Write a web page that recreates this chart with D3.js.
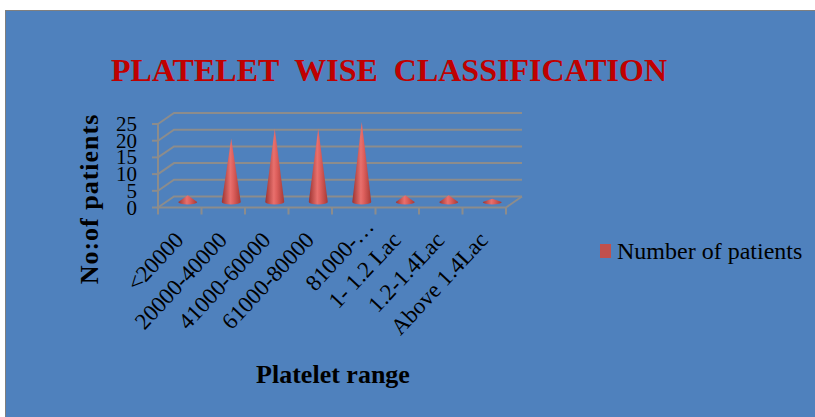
<!DOCTYPE html>
<html>
<head>
<meta charset="utf-8">
<script src="https://cdn.jsdelivr.net/npm/d3@7"></script>
<style>
  body { margin: 0; background: #fff; }
  text { font-family: "Liberation Serif", "Times New Roman", serif; }
</style>
</head>
<body>
<div id="chart"></div>
<script>
// chart data
var categories = ["<20000", "20000-40000", "41000-60000", "61000-80000", "81000-\u2026", "1- 1.2 Lac", "1.2-1.4Lac", "Above 1.4Lac"];
var patients = [2, 19, 22, 22, 24, 2, 2, 1];
var yTicks = [0, 5, 10, 15, 20, 25];
var seriesName = "Number of patients";

var w = 815;
var h = 417;
var depthX = 16;   // 3d depth offset
var depthY = -11;

var svg = d3.select("#chart")
    .append("svg")
    .attr("width", w)
    .attr("height", h);

// gradient for the cones
var grad = svg.append("defs").append("linearGradient")
    .attr("id", "cone")
    .attr("x1", "0%").attr("x2", "100%")
    .attr("y1", "0%").attr("y2", "0%");
grad.append("stop").attr("offset", "0%").attr("stop-color", "#9c3331");
grad.append("stop").attr("offset", "45%").attr("stop-color", "#e8706d");
grad.append("stop").attr("offset", "60%").attr("stop-color", "#de605d");
grad.append("stop").attr("offset", "100%").attr("stop-color", "#a63936");

// blue panel
svg.append("rect")
    .attr("x", 5.5)
    .attr("y", 10.5)
    .attr("width", w + 10)
    .attr("height", h + 10)
    .attr("fill", "#4f81bd")
    .attr("stroke", "#7f7f7f");

// title
svg.append("text")
    .attr("x", 389)
    .attr("y", 81)
    .attr("text-anchor", "middle")
    .attr("fill", "#c00000")
    .style("font-size", "32px")
    .style("font-weight", "bold")
    .style("word-spacing", "8px")
    .text("PLATELET WISE CLASSIFICATION");

//Create scale functions
var xScale = d3.scaleBand()
    .domain(categories)
    .range([158, 506]);

var yScale = d3.scaleLinear()
    .domain([0, 25])
    .range([207.5, 124]);

var x0 = xScale.range()[0];
var x1 = xScale.range()[1];
var y0 = yScale(0);
var gridColor = "#8c8c8c";

// grid lines on side and back walls
var grid = svg.append("g")
    .attr("fill", "none")
    .attr("stroke", gridColor)
    .attr("stroke-width", 2);

grid.selectAll("polyline.grid")
    .data(yTicks)
    .enter()
    .append("polyline")
    .attr("class", "grid")
    .attr("points", function (d) {
        var y = yScale(d);
        return [[x0, y], [x0 + depthX, y + depthY], [x1 + depthX, y + depthY]].join(" ");
    });

// floor front and right edge
grid.append("polyline")
    .attr("points", [[x0, y0], [x1, y0], [x1 + depthX, y0 + depthY]].join(" "));

// front vertical axis
grid.append("line")
    .attr("x1", x0).attr("x2", x0)
    .attr("y1", yScale(25)).attr("y2", y0);

// y ticks
grid.selectAll("line.ytick")
    .data(yTicks)
    .enter()
    .append("line")
    .attr("class", "ytick")
    .attr("x1", x0 - 6).attr("x2", x0)
    .attr("y1", function (d) { return yScale(d); })
    .attr("y2", function (d) { return yScale(d); });

// x ticks at band boundaries
var bounds = categories.map(function (c) { return xScale(c); }).concat([x1]);
grid.selectAll("line.xtick")
    .data(bounds)
    .enter()
    .append("line")
    .attr("class", "xtick")
    .attr("x1", function (d) { return d; })
    .attr("x2", function (d) { return d; })
    .attr("y1", y0)
    .attr("y2", y0 + 7);

// cones
var rx = 9.5, ry = 2.6;
svg.append("g")
    .selectAll("path")
    .data(patients)
    .enter()
    .append("path")
    .attr("fill", "url(#cone)")
    .attr("d", function (d, i) {
        var cx = xScale(categories[i]) + xScale.bandwidth() / 2 + depthX / 2;
        var cy = y0 + depthY / 2;
        var top = yScale(d) + depthY / 2;
        return "M" + (cx - rx) + "," + cy +
            "L" + cx + "," + top +
            "L" + (cx + rx) + "," + cy +
            "A" + rx + "," + ry + " 0 0 1 " + (cx - rx) + "," + cy + "Z";
    });

// y tick labels
svg.append("g")
    .selectAll("text")
    .data(yTicks)
    .enter()
    .append("text")
    .attr("x", 137)
    .attr("y", function (d) { return yScale(d) + 7; })
    .attr("text-anchor", "end")
    .style("font-size", "21px")
    .text(function (d) { return d; });

// x tick labels, rotated
svg.append("g")
    .selectAll("text")
    .data(categories)
    .enter()
    .append("text")
    .attr("transform", function (d) {
        var px = xScale(d) + xScale.bandwidth() / 2 + 5;
        return "translate(" + px + ",241) rotate(-47)";
    })
    .attr("dx", function (d, i) { return i == 4 ? 21 : 0; })
    .attr("dy", function (d, i) { return i == 4 ? 3 : 0; })
    .attr("text-anchor", "end")
    .style("font-size", "23px")
    .text(function (d) { return d; });

// axis titles
svg.append("text")
    .attr("transform", "translate(98,199) rotate(-90)")
    .attr("text-anchor", "middle")
    .style("font-size", "26px")
    .style("font-weight", "bold")
    .style("letter-spacing", "1px")
    .text("No:of patients");

svg.append("text")
    .attr("x", 333)
    .attr("y", 383)
    .attr("text-anchor", "middle")
    .style("font-size", "26px")
    .style("font-weight", "bold")
    .text("Platelet range");

// legend
svg.append("rect")
    .attr("x", 600)
    .attr("y", 244)
    .attr("width", 11)
    .attr("height", 14)
    .attr("fill", "#c0504d");

svg.append("text")
    .attr("x", 617)
    .attr("y", 259)
    .style("font-size", "24px")
    .text(seriesName);
</script>
</body>
</html>
